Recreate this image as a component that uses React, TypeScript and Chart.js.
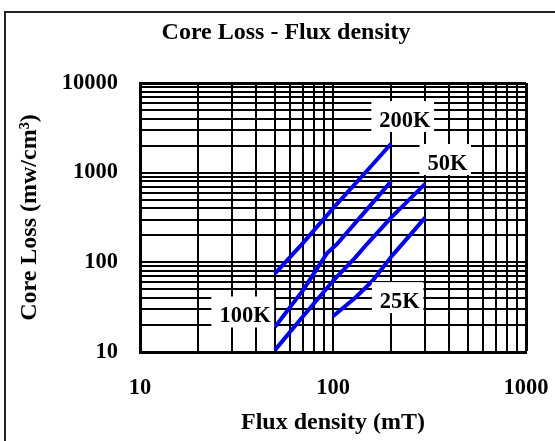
import React, { useEffect, useRef } from "react";
import { Chart, registerables } from "chart.js";

Chart.register(...registerables);

// Series: flux density (mT) vs core loss (mW/cm3)
const s200X = [50, 70, 100, 150, 200];
const s200Y = [75, 165, 400, 1050, 2100];
const s100X = [50, 70, 93, 105, 150, 200];
const s100Y = [19, 49, 126, 160, 390, 800];
const s50X = [50, 70, 100, 130, 150, 200, 300];
const s50Y = [10.5, 25, 62, 112, 160, 315, 750];
const s25X = [100, 130, 160, 200, 250, 300];
const s25Y = [25, 40, 62, 115, 200, 315];

const seriesNames = ["200K", "100K", "50K", "25K"];
const labelX = [236, 35, 392, 222];
const labelY = [3770, 24.9, 1250, 36];

const xTickLabels = [10, 100, 1000];
const yTickLabels = [10, 100, 1000, 10000];

const FONT = "Liberation Serif";

function logGrid(min: number, max: number): number[] {
  const out: number[] = [];
  for (let d = min; d < max; d *= 10) {
    for (let m = 1; m < 10; m++) out.push(d * m);
  }
  out.push(max);
  return out;
}

const toPts = (xs: number[], ys: number[]) => xs.map((x, i) => ({ x, y: ys[i] }));

const curveLabels = {
  id: "curveLabels",
  afterDatasetsDraw(chart: any) {
    const { ctx, scales } = chart;
    ctx.save();
    ctx.font = `bold 22.5px "${FONT}"`;
    ctx.textAlign = "center";
    ctx.textBaseline = "middle";
    seriesNames.forEach((name, i) => {
      const px = scales.x.getPixelForValue(labelX[i]);
      const py = scales.y.getPixelForValue(labelY[i]);
      const w = ctx.measureText(name).width;
      ctx.fillStyle = "#fff";
      ctx.fillRect(px - w / 2 - 8, py - 20, w + 11.5, 31);
      ctx.fillStyle = "#000";
      ctx.fillText(name, px, py);
    });
    ctx.restore();
  },
};

export default function App() {
  const ref = useRef<HTMLCanvasElement>(null);
  useEffect(() => {
    if (!ref.current) return;
    const lineDs = (xs: number[], ys: number[], label: string) => ({
      label,
      data: toPts(xs, ys),
      borderColor: "#0000ff",
      backgroundColor: "#0000ff",
      borderWidth: 4,
      pointRadius: 0,
      tension: 0,
      borderJoinStyle: "round" as const,
    });
    const chart = new Chart(ref.current, {
      type: "line",
      data: {
        datasets: [
          lineDs(s200X, s200Y, seriesNames[0]),
          lineDs(s100X, s100Y, seriesNames[1]),
          lineDs(s50X, s50Y, seriesNames[2]),
          lineDs(s25X, s25Y, seriesNames[3]),
        ],
      },
      options: {
        animation: false,
        responsive: false,
        layout: { padding: { left: 40, right: 40, top: 0, bottom: 0 } },
        plugins: {
          legend: { display: false },
          tooltip: { enabled: false },
          title: {
            display: true,
            text: "Core Loss - Flux density",
            color: "#000",
            font: { family: FONT, size: 24, weight: "bold" },
            padding: { top: 5.6, bottom: 35.6 },
          },
        },
        scales: {
          x: {
            type: "logarithmic",
            min: 10,
            max: 1000,
            afterBuildTicks: (s: any) => {
              s.ticks = logGrid(10, 1000).map((v) => ({ value: v }));
            },
            afterFit: (s: any) => {
              s.height = 101;
              s.paddingLeft = 0;
              s.paddingRight = 0;
            },
            ticks: {
              autoSkip: false,
              maxRotation: 0,
              padding: 22.8,
              color: "#000",
              font: { family: FONT, size: 22.5, weight: "bold" },
              callback: (v: any) => (xTickLabels.includes(Number(v)) ? String(v) : ""),
            },
            grid: {
              color: "#000",
              lineWidth: (c: any) => (c.tick && c.tick.value === 1000 ? 3 : 2),
              drawTicks: false,
            },
            border: { color: "#000", width: 3 },
            title: {
              display: true,
              text: "Flux density (mT)",
              color: "#000",
              font: { family: FONT, size: 24, weight: "bold" },
              padding: { top: 0, bottom: 15.6 },
            },
          },
          y: {
            type: "logarithmic",
            min: 10,
            max: 10000,
            afterBuildTicks: (s: any) => {
              s.ticks = logGrid(10, 10000).map((v) => ({ value: v }));
            },
            afterFit: (s: any) => {
              s.width = 94;
              s.paddingTop = 0;
              s.paddingBottom = 0;
            },
            ticks: {
              autoSkip: false,
              padding: 22,
              color: "#000",
              font: { family: FONT, size: 22.5, weight: "bold" },
              callback: (v: any) => (yTickLabels.includes(Number(v)) ? String(v) : ""),
            },
            grid: {
              color: "#000",
              lineWidth: (c: any) => (c.tick && c.tick.value === 10000 ? 3 : 2),
              drawTicks: false,
            },
            border: { color: "#000", width: 3 },
            title: {
              display: true,
              text: "Core Loss (mw/cm³)",
              color: "#000",
              font: { family: FONT, size: 24, weight: "bold" },
              padding: { top: -30.4, bottom: 0 },
            },
          },
        },
      },
      plugins: [curveLabels],
    } as any);
    return () => chart.destroy();
  }, []);

  return (
    <div style={{ position: "fixed", left: 0, top: 0, width: 555, height: 441, overflow: "hidden", background: "#fff" }}>
      <div style={{ position: "absolute", left: 4, top: 11, width: 560, height: 440, border: "2px solid #222" }}>
        <canvas ref={ref} width={560} height={440} style={{ display: "block", width: 560, height: 440 }} />
      </div>
    </div>
  );
}
